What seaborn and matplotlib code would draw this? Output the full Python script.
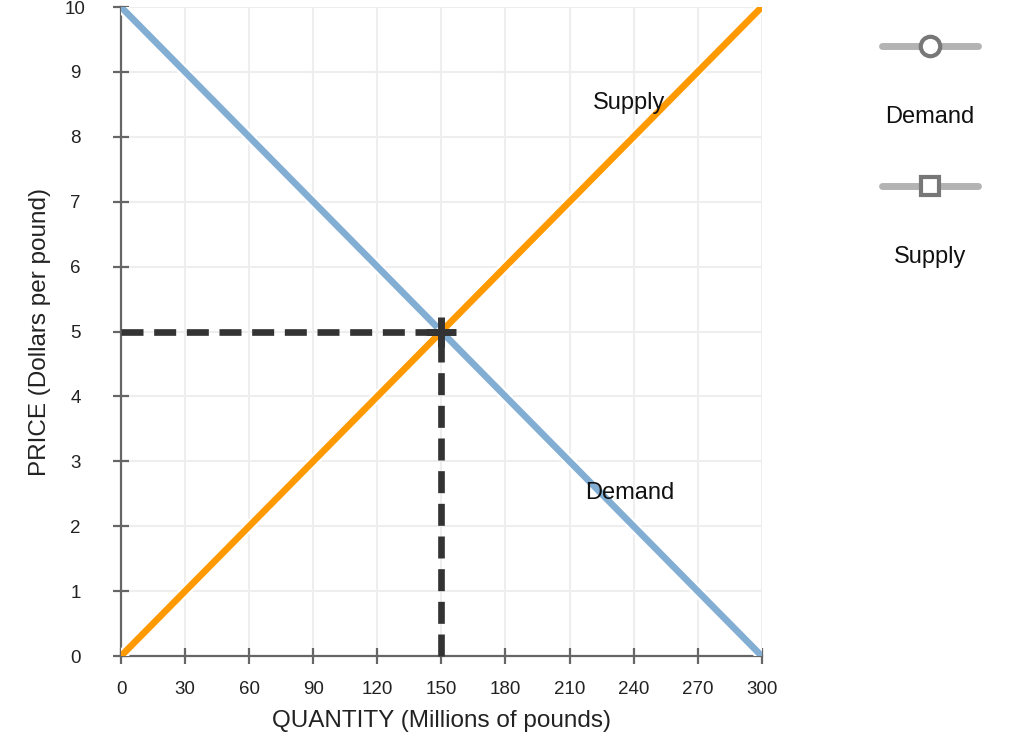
import pandas as pd
import matplotlib.pyplot as plt
import matplotlib.patheffects as pe
from matplotlib.lines import Line2D
import seaborn as sns

# Curve data
quantity = [0, 300]
demand_price = [10, 0]
supply_price = [0, 10]

# Equilibrium
eq_quantity = 150
eq_price = 5

x_ticks = list(range(0, 301, 30))
y_ticks = list(range(0, 11))

demand_color = "#83aed4"
supply_color = "#ff9900"

sns.set_theme(style="white")
plt.rcParams['font.family'] = ['Liberation Sans', 'DejaVu Sans']

fig = plt.figure(figsize=(10.17, 7.46), dpi=100)
ax = fig.add_axes([0.119, 0.1206, 0.630, 0.870])

df = pd.DataFrame({"quantity": quantity, "demand": demand_price, "supply": supply_price})

outline = [pe.Stroke(linewidth=8, foreground="white"), pe.Normal()]
sns.lineplot(data=df, x="quantity", y="demand", ax=ax, color=demand_color,
             linewidth=4.8, zorder=3, path_effects=outline)
sns.lineplot(data=df, x="quantity", y="supply", ax=ax, color=supply_color,
             linewidth=4.8, zorder=3, path_effects=outline)

# Dashed guide lines to equilibrium
ax.plot([0, eq_quantity], [eq_price, eq_price], color="#333333", linewidth=4.8,
        dashes=(3.3, 1.6), zorder=4, clip_on=False)
ax.plot([eq_quantity, eq_quantity], [0, eq_price], color="#333333", linewidth=4.8,
        dashes=(3.3, 1.6), zorder=4, clip_on=False)
ax.plot([eq_quantity], [eq_price], marker="+", markersize=21, markeredgewidth=5,
        color="#333333", zorder=5, clip_on=False)

# Curve labels
ax.text(238, 8.52, "Supply", fontsize=17, ha="center", va="center", zorder=6, color="#111111")
ax.text(238, 2.51, "Demand", fontsize=17, ha="center", va="center", zorder=6, color="#111111")

ax.set_xlim(0, 300)
ax.set_ylim(0, 10)
ax.set_xticks(x_ticks)
ax.set_yticks(y_ticks)
ax.grid(True, color="#eeeeee", linewidth=1.5)
ax.set_axisbelow(True)
for side in ["top", "right"]:
    ax.spines[side].set_visible(False)
for side in ["left", "bottom"]:
    ax.spines[side].set_color("#666666")
    ax.spines[side].set_linewidth(1.6)
ax.tick_params(axis="both", direction="inout", length=11.5, width=1.6, color="#666666",
               labelsize=13.5, labelcolor="#222222", bottom=True, left=True)
ax.tick_params(axis="x", pad=12)
ax.tick_params(axis="y", pad=27)
for lbl in ax.get_yticklabels():
    lbl.set_horizontalalignment("center")
ax.set_xlabel("QUANTITY (Millions of pounds)", fontsize=17.5, color="#222222", labelpad=9)
ax.set_ylabel("PRICE (Dollars per pound)", fontsize=17.5, color="#222222", labelpad=10)

# Legend panel on the right
lax = fig.add_axes([0.85, 0.6, 0.12, 0.4])
lax.set_xlim(0, 1)
lax.set_ylim(0, 1)
lax.axis("off")
items = [("Demand", "o", 0.846, 0.608), ("Supply", "s", 0.377, 0.139)]
for name, mk, ly, ty in items:
    lax.add_line(Line2D([0.143, 0.93], [ly, ly], color="#b3b3b3", linewidth=5, zorder=1))
    lax.add_line(Line2D([0.537], [ly], marker=mk, markersize=14 if mk == "o" else 12.5,
                        markerfacecolor="white", markeredgecolor="#777777",
                        markeredgewidth=3, linestyle="none", zorder=2))
    lax.text(0.537, ty, name, fontsize=17, ha="center", va="center", color="#111111")

fig.savefig("out.png", dpi=100)
